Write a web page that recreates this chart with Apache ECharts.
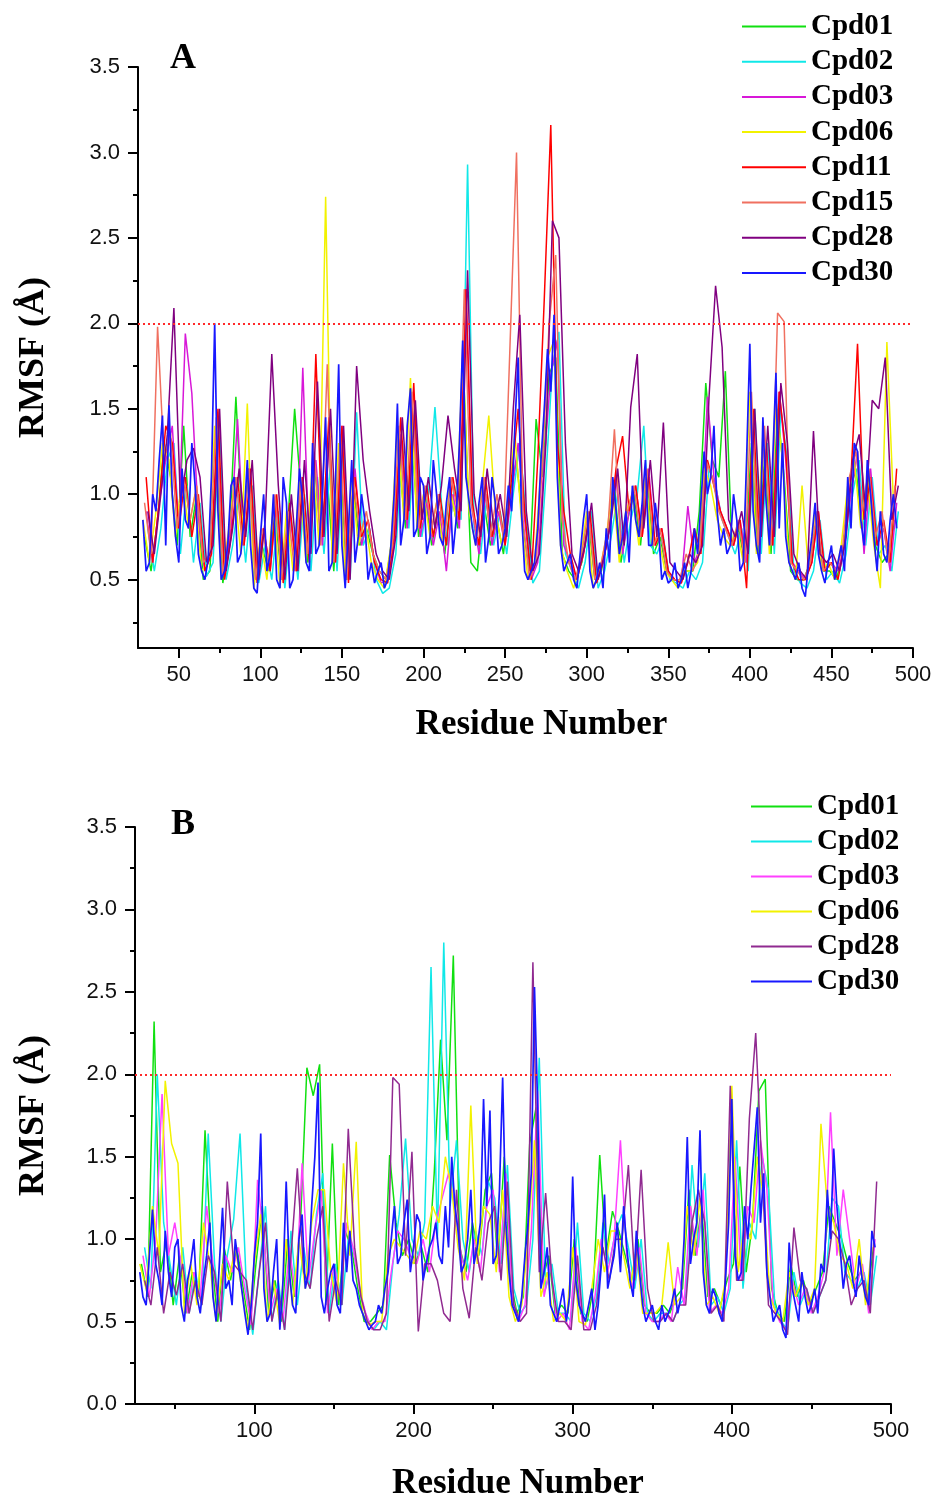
<!DOCTYPE html>
<html>
<head>
<meta charset="utf-8">
<script src="https://cdn.jsdelivr.net/npm/echarts@6/dist/echarts.min.js"></script>
<style>
  html, body { margin: 0; padding: 0; background: #fff; }
  #chart { width: 935px; height: 1502px; }
</style>
</head>
<body>
<div id="chart"></div>
<script>
const residues28 = [
  28,32,36,40,44,48,52,56,60,64,68,72,76,80,84,88,92,96,100,104,
  108,112,116,120,124,128,132,136,140,144,148,152,156,160,164,168,172,176,180,184,
  188,192,196,200,204,208,212,216,220,224,228,232,236,240,244,248,252,256,260,264,
  268,272,276,280,284,288,292,296,300,304,308,312,316,320,324,328,332,336,340,344,
  348,352,356,360,364,368,372,376,380,384,388,392,396,400,404,408,412,416,420,424,
  428,432,436,440,444,448,452,456,460,464,468,472,476,480,484,488
];
const residues29 = [
  29,33,37,41,45,49,53,57,61,65,69,73,77,81,85,89,93,97,101,105,
  109,113,117,121,125,129,133,137,141,145,149,153,157,161,165,169,173,177,181,185,
  189,193,197,201,205,209,213,217,221,225,229,233,237,241,245,249,253,257,261,265,
  269,273,277,281,285,289,293,297,301,305,309,313,317,321,325,329,333,337,341,345,
  349,353,357,361,365,369,373,377,381,385,389,393,397,401,405,409,413,417,421,425,
  429,433,437,441,445,449,453,457,461,465,469,473,477,481,485,489
];
const residues30 = [
  30,34,38,42,46,50,54,58,62,66,70,74,78,82,86,90,94,98,102,106,
  110,114,118,122,126,130,134,138,142,146,150,154,158,162,166,170,174,178,182,186,
  190,194,198,202,206,210,214,218,222,226,230,234,238,242,246,250,254,258,262,266,
  270,274,278,282,286,290,294,298,302,306,310,314,318,322,326,330,334,338,342,346,
  350,354,358,362,366,370,374,378,382,386,390,394,398,402,406,410,414,418,422,426,
  430,434,438,442,446,450,454,458,462,466,470,474,478,482,486,490
];
const residues31 = [
  31,35,39,43,47,51,55,59,63,67,71,75,79,83,87,91,95,99,103,107,
  111,115,119,123,127,131,135,139,143,147,151,155,159,163,167,171,175,179,183,187,
  191,195,199,203,207,211,215,219,223,227,231,235,239,243,247,251,255,259,263,267,
  271,275,279,283,287,291,295,299,303,307,311,315,319,323,327,331,335,339,343,347,
  351,355,359,363,367,371,375,379,383,387,391,395,399,403,407,411,415,419,423,427,
  431,435,439,443,447,451,455,459,463,467,471,475,479,483,487,491
];

const thresholdRMSF = 2.0;

/* ---------------- panel A : RMSF (Å) ---------------- */
const cpd01A = [
  0.75,0.55,0.85,1.30,1.10,0.70,1.40,0.75,1.00,0.50,
  0.55,1.20,0.48,0.75,1.57,0.80,1.15,0.50,0.70,0.55,
  0.90,0.50,0.85,1.50,1.00,0.60,1.20,0.75,1.10,0.55,
  1.20,0.50,1.05,0.70,0.80,0.65,0.55,0.50,0.75,1.20,
  0.80,1.30,0.75,1.00,0.70,0.90,0.65,1.00,0.80,1.60,
  0.60,0.55,0.95,0.70,0.85,0.65,1.00,1.20,0.80,0.55,
  1.44,1.10,1.70,1.80,0.65,0.55,0.50,0.60,0.85,0.50,
  0.55,0.75,1.05,0.60,0.85,1.00,0.70,1.10,0.65,0.75,
  0.55,0.50,0.50,0.55,0.55,0.90,1.65,1.20,1.10,1.72,
  0.70,0.80,0.60,1.30,0.65,1.20,0.65,1.50,1.10,0.55,
  0.50,0.50,0.60,0.85,0.55,0.55,0.50,0.65,1.00,1.15,
  0.80,1.10,0.70,0.60,0.65,0.85
];
const cpd02A = [
  0.80,0.55,0.80,1.20,1.30,0.65,1.05,0.60,0.95,0.52,
  0.60,1.40,0.50,0.70,1.00,0.60,1.05,0.48,0.70,0.50,
  0.90,0.45,0.85,0.50,1.00,0.55,1.10,0.65,1.20,0.55,
  1.30,0.50,1.48,0.70,0.80,0.50,0.42,0.45,0.65,1.30,
  0.80,1.40,0.75,1.00,1.51,0.95,0.70,1.05,0.85,2.93,
  0.80,0.65,1.00,0.70,0.90,0.65,1.00,1.30,0.85,0.48,
  0.55,1.10,1.75,1.95,0.65,0.55,0.45,0.60,0.90,0.45,
  0.55,0.75,1.00,0.60,0.85,1.00,1.40,0.70,0.65,0.75,
  0.50,0.48,0.45,0.55,0.50,0.60,1.15,1.05,0.85,0.75,
  0.65,0.80,0.55,1.50,0.65,1.30,0.65,1.50,1.20,0.55,
  0.48,0.45,0.55,0.85,0.50,0.55,0.48,0.65,1.00,1.20,
  0.70,1.10,0.65,0.70,0.55,0.90
];
const cpd03A = [
  0.90,0.60,0.95,1.20,1.40,0.80,1.94,1.59,0.85,0.55,
  0.65,1.30,0.52,0.80,1.44,0.70,1.10,0.50,0.80,0.55,
  0.95,0.50,0.90,0.55,1.74,0.65,1.20,0.70,1.30,0.60,
  1.40,0.50,1.15,0.70,0.85,0.60,0.48,0.50,0.70,1.35,
  0.80,1.45,0.75,0.95,0.70,0.90,0.55,1.00,0.80,2.20,
  0.90,0.65,1.00,0.70,0.90,0.70,1.00,1.30,0.85,0.50,
  0.60,1.20,1.70,1.90,0.70,0.60,0.50,0.65,0.85,0.48,
  0.60,0.80,1.10,0.65,0.90,1.05,0.75,1.15,0.70,0.80,
  0.55,0.50,0.48,0.93,0.60,0.70,1.57,1.10,0.90,0.80,
  0.70,0.85,0.60,1.40,0.65,1.30,0.70,1.60,1.20,0.60,
  0.55,0.50,0.60,0.90,0.55,0.60,0.55,0.70,1.00,1.25,
  0.65,1.15,0.70,0.80,0.55,0.95
];
const cpd06A = [
  0.85,0.60,0.90,1.30,1.20,0.75,1.10,0.80,1.00,0.55,
  0.60,1.40,0.50,0.75,1.05,0.65,1.53,0.45,0.75,0.50,
  0.95,0.45,0.90,0.55,1.10,0.60,1.20,0.70,2.74,0.60,
  1.30,0.50,1.10,0.70,0.85,0.60,0.50,0.45,0.70,1.40,
  0.85,1.68,0.80,1.00,0.75,0.95,0.70,1.05,0.85,1.80,
  0.90,0.70,1.05,1.46,0.90,0.70,1.00,1.35,0.85,0.50,
  0.60,1.15,1.80,1.90,0.70,0.55,0.45,0.60,0.90,0.45,
  0.55,0.75,1.05,0.60,0.90,1.00,0.70,1.10,0.70,0.75,
  0.55,0.50,0.45,0.55,0.55,0.60,1.15,1.05,0.85,0.75,
  0.70,0.80,0.60,1.60,0.65,1.35,0.65,1.55,1.20,0.60,
  0.50,1.05,0.55,0.90,0.55,0.60,0.50,0.70,1.05,1.20,
  0.80,1.10,0.70,0.45,1.89,0.95
];
const cpd11A = [
  1.10,0.60,0.95,1.40,1.30,0.80,1.10,0.75,1.00,0.55,
  0.65,1.50,0.50,0.75,1.10,0.70,1.15,0.48,0.80,0.55,
  1.00,0.48,0.95,0.55,1.10,0.60,1.82,0.75,1.45,0.60,
  1.40,0.48,1.10,0.75,0.85,0.60,0.50,0.48,0.75,1.45,
  0.85,1.65,0.80,1.05,0.75,1.00,0.70,1.10,0.85,2.20,
  0.95,0.70,1.10,0.75,0.95,0.70,1.10,1.50,0.90,0.50,
  1.20,2.14,3.16,1.30,0.90,0.65,0.50,0.65,0.90,0.48,
  0.60,0.80,1.15,1.34,0.90,1.05,0.75,1.10,0.70,0.80,
  0.55,0.50,0.48,0.60,0.80,0.65,1.20,1.05,0.90,0.80,
  0.70,0.85,0.45,1.50,0.70,1.30,0.70,1.60,1.25,0.60,
  0.50,0.50,0.60,0.90,0.55,0.60,0.50,0.70,1.10,1.88,
  0.85,1.10,0.70,0.85,0.60,1.15
];
const cpd15A = [
  0.95,0.65,1.98,1.20,1.35,0.80,1.10,0.85,1.05,0.60,
  0.65,1.45,0.52,0.80,1.10,0.70,1.15,0.50,0.80,0.60,
  1.00,0.50,0.90,0.55,1.10,0.65,1.25,0.70,1.76,0.60,
  1.35,0.50,1.10,0.75,0.90,0.65,0.55,0.50,0.70,1.40,
  0.85,1.60,0.80,1.05,0.80,1.00,0.75,1.10,0.90,2.20,
  0.95,0.75,1.10,0.75,1.00,0.75,1.87,3.00,0.85,0.50,
  0.60,1.20,2.00,2.40,0.85,0.60,0.50,0.65,0.90,0.50,
  0.60,0.80,1.38,0.70,0.90,1.05,0.75,1.15,0.70,0.80,
  0.55,0.50,0.50,0.65,0.55,0.65,1.20,1.10,0.90,0.80,
  0.70,0.85,0.60,1.60,0.70,1.40,0.70,2.06,2.01,0.60,
  0.55,0.50,0.60,0.90,0.55,0.60,0.55,0.70,1.10,1.25,
  0.90,1.15,0.75,0.90,0.60,1.05
];
const cpd28A = [
  0.90,0.65,1.00,1.35,2.09,0.95,1.20,1.27,1.10,0.60,
  0.70,1.50,0.55,0.80,1.15,0.75,1.20,0.50,0.85,1.82,
  1.05,0.50,1.00,0.55,1.20,0.65,1.66,0.75,1.50,0.65,
  1.40,0.50,1.75,1.20,0.90,0.65,0.55,0.50,0.75,1.45,
  0.90,1.55,0.85,1.10,0.80,1.05,1.46,1.15,0.90,2.31,
  1.00,0.75,1.15,0.80,1.00,0.75,1.50,2.05,0.90,0.55,
  0.65,1.30,2.60,2.50,1.29,0.65,0.55,0.70,0.95,0.50,
  0.65,0.85,1.15,0.70,1.51,1.82,0.80,1.20,0.75,1.42,
  0.60,0.55,0.50,0.65,0.60,0.70,1.57,2.22,1.86,0.85,
  0.75,0.90,0.65,1.50,0.75,1.40,0.75,1.65,1.30,0.65,
  0.55,0.50,1.37,0.65,0.60,0.65,0.55,0.75,1.20,1.35,
  0.90,1.55,1.50,1.80,0.85,1.05
];
const cpd30A = [
  0.85,0.60,0.90,1.46,1.52,0.75,1.15,0.80,1.05,0.55,
  0.62,2.00,0.50,0.70,1.10,0.65,1.20,0.45,0.75,0.55,
  1.00,0.45,0.95,0.50,1.15,0.60,1.30,0.70,1.45,0.60,
  1.76,0.45,1.20,0.75,0.85,0.60,0.55,0.45,0.70,1.53,
  0.85,1.62,0.80,1.05,0.75,1.00,0.70,1.10,0.85,1.90,
  0.95,0.70,1.10,0.75,0.95,0.70,1.05,1.40,0.90,0.50,
  0.60,1.20,1.85,2.05,0.70,0.60,0.50,0.65,1.00,0.45,
  0.60,0.80,1.10,0.65,0.90,1.05,0.75,1.20,0.70,0.80,
  0.55,0.50,0.45,0.60,0.55,0.65,1.25,1.10,0.90,0.80,
  0.70,0.85,0.60,1.88,0.70,1.45,0.70,1.71,1.30,0.60,
  0.50,0.45,0.60,0.95,0.55,0.60,0.50,0.70,1.10,1.30,
  0.85,1.20,0.75,0.90,0.60,1.00
];
// Cpd30 (A) read in between, at residues 30, 34, ...
const cpd30Amid = [
  0.55,1.00,1.20,0.70,1.00,0.60,0.85,1.30,0.65,0.50,
  1.10,0.90,0.55,1.05,0.60,0.85,0.70,0.42,1.00,0.65,
  0.50,1.10,0.45,0.80,0.95,0.55,0.65,1.00,0.55,1.05,
  0.70,0.80,0.60,1.00,0.50,0.48,0.60,0.50,1.00,0.70,
  1.40,0.75,1.10,0.65,1.20,0.75,0.95,0.65,1.30,1.10,
  0.80,0.95,0.60,1.10,0.65,0.80,0.90,1.80,0.55,0.55,
  0.80,1.50,1.60,1.10,0.55,0.65,0.45,0.85,0.55,0.50,
  0.45,0.60,0.90,0.75,0.60,0.85,0.95,0.70,0.95,0.50,
  0.48,0.60,0.50,0.45,0.80,0.95,1.00,1.40,0.70,0.65,
  1.00,0.55,1.20,0.90,0.60,0.95,1.20,0.80,0.75,0.55,
  0.60,0.40,0.75,0.65,0.48,0.70,0.60,0.55,0.80,1.25,
  0.70,1.00,0.55,0.65,0.85,0.80
];

/* ---------------- panel B : RMSF (Å) ---------------- */
const cpd01B = [
  0.85,0.65,2.32,0.80,1.00,0.60,0.90,0.55,0.80,0.65,
  1.66,0.90,0.50,0.95,0.75,0.95,0.70,0.45,0.85,1.20,
  0.55,0.75,0.50,1.00,0.65,1.10,2.04,1.87,2.06,0.60,
  1.58,0.60,1.05,0.95,0.70,0.50,0.50,0.55,0.60,1.51,
  1.10,0.90,1.00,0.85,0.95,0.80,1.40,2.21,1.60,2.72,
  0.95,0.80,1.10,0.90,1.30,1.40,0.85,1.50,0.75,0.55,
  0.65,1.58,1.80,0.75,0.90,0.55,0.60,0.55,1.00,0.55,
  0.50,0.70,1.51,0.90,1.17,1.05,0.90,0.75,1.00,0.60,
  0.55,0.55,0.60,0.55,0.65,0.70,1.30,0.90,1.20,0.65,
  0.70,0.60,0.75,0.85,1.44,0.80,1.10,1.90,1.97,0.70,
  0.55,0.50,0.85,0.65,0.75,0.60,0.70,0.80,1.20,1.10,
  1.00,0.85,0.75,0.80,0.65,0.95
];
const cpd02B = [
  0.95,0.70,2.00,1.10,0.85,0.60,0.95,0.55,0.80,0.60,
  1.64,0.85,0.50,0.90,1.12,1.64,0.70,0.42,0.80,1.20,
  0.50,0.75,0.45,1.05,0.60,0.95,0.70,1.15,1.40,0.55,
  0.85,0.60,1.00,0.90,0.65,0.50,0.45,0.50,0.45,0.85,
  1.15,1.61,1.00,0.90,1.10,2.65,1.00,2.80,1.20,1.60,
  1.00,0.80,1.05,0.90,1.35,1.25,0.85,1.45,0.70,0.55,
  0.60,1.00,2.10,0.70,0.85,0.55,0.55,0.50,1.10,0.55,
  0.50,0.65,1.10,0.85,1.05,1.15,0.95,0.70,1.00,0.55,
  0.50,0.55,0.55,0.50,0.60,0.65,1.45,0.95,1.40,0.60,
  0.65,0.55,0.70,1.60,0.70,1.10,1.00,1.50,1.30,0.60,
  0.50,0.45,0.80,0.60,0.70,0.55,0.65,0.75,1.25,1.20,
  0.80,0.75,0.70,0.80,0.60,0.90
];
const cpd03B = [
  0.90,0.65,1.00,1.88,0.90,1.10,0.85,0.55,0.80,0.65,
  1.20,0.85,0.55,0.90,0.80,0.95,0.70,0.48,1.36,1.00,
  0.55,0.70,0.50,0.95,0.65,1.46,0.75,1.05,1.30,0.55,
  0.85,0.65,1.10,0.95,0.70,0.55,0.45,0.50,0.50,0.80,
  1.05,1.00,0.90,0.85,1.00,0.80,1.10,1.25,1.40,1.20,
  0.90,0.75,1.00,0.80,1.20,1.30,0.80,1.40,0.65,0.50,
  0.60,1.05,1.90,0.65,0.85,0.50,0.55,0.45,0.95,0.50,
  0.45,0.65,1.00,0.80,1.00,1.60,0.90,0.70,0.95,0.55,
  0.50,0.50,0.55,0.50,0.83,0.60,1.20,0.90,1.30,0.55,
  0.60,0.55,0.70,1.50,0.75,1.20,1.10,1.60,1.30,0.60,
  0.50,0.45,0.75,0.60,0.70,0.55,0.65,0.80,1.77,0.90,
  1.30,1.00,0.70,0.85,0.55,1.00
];
const cpd06B = [
  0.85,0.70,1.20,0.90,1.96,1.58,1.46,0.55,0.85,0.60,
  1.10,0.85,0.50,0.85,0.75,0.95,0.70,0.45,0.85,1.15,
  0.50,0.75,0.48,1.00,0.60,1.00,0.70,1.10,1.30,1.30,
  0.80,0.60,1.46,0.90,1.59,0.55,0.48,0.50,0.50,0.90,
  1.00,0.95,0.90,0.85,1.05,1.00,1.20,1.10,1.50,1.30,
  0.95,0.75,1.81,0.85,1.20,1.15,0.80,1.30,0.65,0.50,
  0.60,1.00,1.60,0.65,0.80,0.50,0.55,0.50,0.95,0.50,
  0.48,0.70,1.00,0.80,1.05,1.05,0.90,0.70,0.95,0.55,
  0.55,0.55,0.60,0.98,0.60,0.65,1.20,0.90,1.25,0.60,
  0.65,0.55,0.75,1.93,0.80,1.10,1.00,1.50,1.25,0.65,
  0.55,0.50,0.80,0.65,0.75,0.60,0.70,1.70,1.20,1.10,
  0.90,0.85,0.70,1.00,0.60,0.95
];
const cpd28B = [
  0.75,0.60,0.95,0.55,0.80,0.66,0.85,0.55,0.75,0.60,
  0.90,0.80,0.50,1.35,0.85,0.80,0.75,0.45,0.80,1.10,
  0.50,0.70,0.45,0.90,1.43,0.80,0.70,1.00,1.20,0.50,
  0.75,0.60,1.67,0.95,0.65,0.50,0.45,0.45,0.55,1.98,
  1.94,0.90,1.53,0.44,0.85,0.85,0.75,0.55,0.50,1.30,
  0.70,0.52,0.95,0.75,1.10,1.20,0.75,1.35,0.60,0.50,
  0.55,2.68,0.80,1.28,0.75,0.50,0.50,0.45,0.90,0.45,
  0.45,0.60,0.95,0.75,1.00,1.00,1.45,0.75,1.42,0.70,
  0.50,0.50,0.55,0.50,0.60,0.60,1.10,1.30,1.10,0.55,
  0.60,0.50,1.93,0.75,0.75,1.73,2.25,1.40,0.60,0.55,
  0.50,0.42,1.07,0.75,0.70,0.55,0.65,0.75,1.05,1.00,
  0.85,0.60,0.70,0.75,0.55,1.35
];
const cpd30B = [
  0.80,0.60,1.18,0.75,1.05,0.65,1.00,0.50,0.85,0.65,
  0.75,1.10,0.50,1.19,0.75,1.00,0.70,0.42,0.90,1.64,
  0.50,0.80,0.45,1.35,0.60,1.00,0.70,1.20,1.95,0.55,
  0.80,0.60,1.10,1.05,0.70,0.55,0.45,0.50,0.55,0.80,
  1.20,0.90,1.24,0.95,1.10,0.85,1.00,0.90,1.20,1.50,
  1.05,0.85,1.30,0.95,1.85,1.78,0.90,1.98,0.80,0.55,
  0.65,1.10,2.53,0.70,0.95,0.55,0.60,0.50,1.38,0.60,
  0.50,0.70,0.60,1.27,0.80,1.10,1.20,0.75,1.05,0.60,
  0.55,0.50,0.60,0.55,0.70,0.65,1.62,1.00,1.66,0.60,
  0.70,0.55,0.75,1.85,0.75,1.20,1.30,1.80,1.40,0.65,
  0.55,0.45,0.98,0.60,0.80,0.55,0.70,0.85,1.30,1.55,
  0.95,0.85,0.75,0.90,0.65,1.05
];
// Cpd30 (B) read in between, at residues 30, 34, ...
const cpd30Bmid = [
  0.65,0.90,0.85,0.60,0.80,0.95,0.60,0.75,1.00,0.55,
  0.90,0.65,0.85,0.70,0.60,0.85,0.55,0.60,1.10,0.70,
  0.55,1.00,0.75,0.80,0.55,1.15,0.80,1.50,0.65,0.70,
  0.85,0.55,0.80,0.75,0.60,0.50,0.48,0.60,0.70,1.00,
  0.85,1.10,0.80,1.15,0.75,0.95,1.10,0.85,0.95,1.20,
  0.80,1.00,0.85,1.10,1.20,0.85,1.30,1.10,0.60,0.50,
  0.90,1.40,1.80,0.80,0.60,0.50,0.70,0.65,0.75,0.55,
  0.60,0.45,0.85,0.70,0.90,0.80,0.95,0.65,0.80,0.50,
  0.60,0.45,0.50,0.60,0.55,1.00,0.85,1.10,0.80,0.55,
  0.65,0.50,1.10,0.90,0.80,1.00,1.55,1.10,0.80,0.50,
  0.60,0.40,0.70,0.50,0.65,0.60,0.55,0.80,1.00,1.20,
  0.70,0.90,0.65,0.75,0.60,0.95
];

const seriesA = [
  { name: 'Cpd01', color: '#10e010', parts: [[residues29, cpd01A]] },
  { name: 'Cpd02', color: '#10e8e8', parts: [[residues31, cpd02A]] },
  { name: 'Cpd03', color: '#d818d8', parts: [[residues30, cpd03A]] },
  { name: 'Cpd06', color: '#f2f200', parts: [[residues28, cpd06A]] },
  { name: 'Cpd11', color: '#ff0000', parts: [[residues30, cpd11A]] },
  { name: 'Cpd15', color: '#f07060', parts: [[residues29, cpd15A]] },
  { name: 'Cpd28', color: '#800080', parts: [[residues31, cpd28A]] },
  { name: 'Cpd30', color: '#1818ff', parts: [[residues28, cpd30A], [residues30, cpd30Amid]] }
];
const seriesB = [
  { name: 'Cpd01', color: '#10e010', parts: [[residues29, cpd01B]] },
  { name: 'Cpd02', color: '#10e8e8', parts: [[residues31, cpd02B]] },
  { name: 'Cpd03', color: '#ff40ff', parts: [[residues30, cpd03B]] },
  { name: 'Cpd06', color: '#f2f200', parts: [[residues28, cpd06B]] },
  { name: 'Cpd28', color: '#902a90', parts: [[residues31, cpd28B]] },
  { name: 'Cpd30', color: '#1818ff', parts: [[residues28, cpd30B], [residues30, cpd30Bmid]] }
];

const yLabelsA = [0.5, 1.0, 1.5, 2.0, 2.5, 3.0, 3.5];
const yMinorA = [0.25, 0.75, 1.25, 1.75, 2.25, 2.75, 3.25];
const xLabelsA = [50, 100, 150, 200, 250, 300, 350, 400, 450, 500];
const xMinorA = [75, 125, 175, 225, 275, 325, 375, 425, 475];

const yLabelsB = [0.0, 0.5, 1.0, 1.5, 2.0, 2.5, 3.0, 3.5];
const yMinorB = [0.25, 0.75, 1.25, 1.75, 2.25, 2.75, 3.25];
const xLabelsB = [100, 200, 300, 400, 500];
const xMinorB = [50, 150, 250, 350, 450];

const serif = 'Liberation Serif';
const sans = 'Liberation Sans';

const chart = echarts.init(document.getElementById('chart'), null, { renderer: 'canvas' });

const majorX = (grid, labels, min, max, nameGap, namePad) => ({
  type: 'value', gridIndex: grid, min: min, max: max, position: 'bottom',
  name: 'Residue Number', nameLocation: 'middle', nameGap: nameGap,
  nameTextStyle: { fontFamily: serif, fontWeight: 'bold', fontSize: 35, color: '#000', padding: namePad },
  axisLine: { show: true, onZero: false, lineStyle: { color: '#000', width: 2 } },
  axisTick: { show: true, customValues: labels, length: 10, lineStyle: { color: '#000', width: 2 } },
  axisLabel: { show: true, customValues: labels, margin: 16, fontFamily: sans, fontSize: 22, color: '#111' },
  splitLine: { show: false }
});
const minorX = (grid, ticks, min, max) => ({
  type: 'value', gridIndex: grid, min: min, max: max, position: 'bottom',
  axisLine: { show: false, onZero: false },
  axisTick: { show: true, customValues: ticks, length: 5, lineStyle: { color: '#000', width: 2 } },
  axisLabel: { show: false },
  splitLine: { show: false }
});
const majorY = (grid, labels, min, max, nameGap) => ({
  type: 'value', gridIndex: grid, min: min, max: max, position: 'left',
  name: 'RMSF (Å)', nameLocation: 'middle', nameGap: nameGap, nameRotate: 90,
  nameTextStyle: { fontFamily: serif, fontWeight: 'bold', fontSize: 36, color: '#000' },
  axisLine: { show: true, onZero: false, lineStyle: { color: '#000', width: 2 } },
  axisTick: { show: true, customValues: labels, length: 10, lineStyle: { color: '#000', width: 2 } },
  axisLabel: { show: true, customValues: labels, margin: 18, fontFamily: sans, fontSize: 22, color: '#111',
    formatter: v => Number(v).toFixed(1) },
  splitLine: { show: false }
});
const minorY = (grid, ticks, min, max) => ({
  type: 'value', gridIndex: grid, min: min, max: max, position: 'left',
  axisLine: { show: false, onZero: false },
  axisTick: { show: true, customValues: ticks, length: 5, lineStyle: { color: '#000', width: 2 } },
  axisLabel: { show: false },
  splitLine: { show: false }
});

const buildSeries = (list, axisIdx) => list.map((item, i) => {
  const pts = [];
  item.parts.forEach(([xs, ys]) => xs.forEach((r, k) => pts.push([r, ys[k]])));
  pts.sort((a, b) => a[0] - b[0]);
  const last = i === list.length - 1;
  const s = {
    name: item.name, type: 'line', xAxisIndex: axisIdx, yAxisIndex: axisIdx,
    symbol: 'none', showSymbol: false, silent: true,
    lineStyle: { color: item.color, width: last ? 1.7 : 1.5 },
    itemStyle: { color: item.color },
    data: pts
  };
  if (last) {
    s.markLine = {
      silent: true, symbol: ['none', 'none'], label: { show: false },
      lineStyle: { color: '#ff2a2a', type: [2, 3], width: 2.2 },
      data: [{ yAxis: thresholdRMSF }]
    };
  }
  return s;
});

const legendStyle = { fontFamily: serif, fontWeight: 'bold', fontSize: 29, lineHeight: 28, color: '#000' };
const titleStyle = { fontFamily: serif, fontWeight: 'bold', fontSize: 36, color: '#000' };

chart.setOption({
  animation: false,
  backgroundColor: '#fff',
  title: [
    { text: 'A', left: 170, top: 41, padding: 0, textStyle: titleStyle },
    { text: 'B', left: 171, top: 807, padding: 0, textStyle: titleStyle }
  ],
  legend: [
    {
      data: seriesA.map(s => ({ name: s.name, itemStyle: { color: s.color } })),
      orient: 'vertical', left: 742, top: 12, padding: 0,
      icon: 'rect', itemWidth: 64, itemHeight: 2, itemGap: 6.2,
      textStyle: legendStyle, selectedMode: false
    },
    {
      data: seriesB.map(s => ({ name: s.name, itemStyle: { color: s.color } })),
      orient: 'vertical', left: 751, top: 792, padding: 0,
      icon: 'rect', itemWidth: 61, itemHeight: 2, itemGap: 6,
      textStyle: legendStyle, selectedMode: false
    }
  ],
  grid: [
    { left: 138, top: 67, width: 775, height: 581 },
    { left: 135, top: 827, width: 756, height: 579 }
  ],
  xAxis: [
    majorX(0, xLabelsA, 25, 500, 59, [0, 0, 0, 32]),
    minorX(0, xMinorA, 25, 500),
    majorX(1, xLabelsB, 25, 500, 62, [0, 0, 0, 10]),
    minorX(1, xMinorB, 25, 500)
  ],
  yAxis: [
    majorY(0, yLabelsA, 0.1, 3.5, 86),
    minorY(0, yMinorA, 0.1, 3.5),
    majorY(1, yLabelsB, 0, 3.5, 83),
    minorY(1, yMinorB, 0, 3.5)
  ],
  series: [
    ...buildSeries(seriesA, 0),
    ...buildSeries(seriesB, 2)
  ]
});
</script>
</body>
</html>
